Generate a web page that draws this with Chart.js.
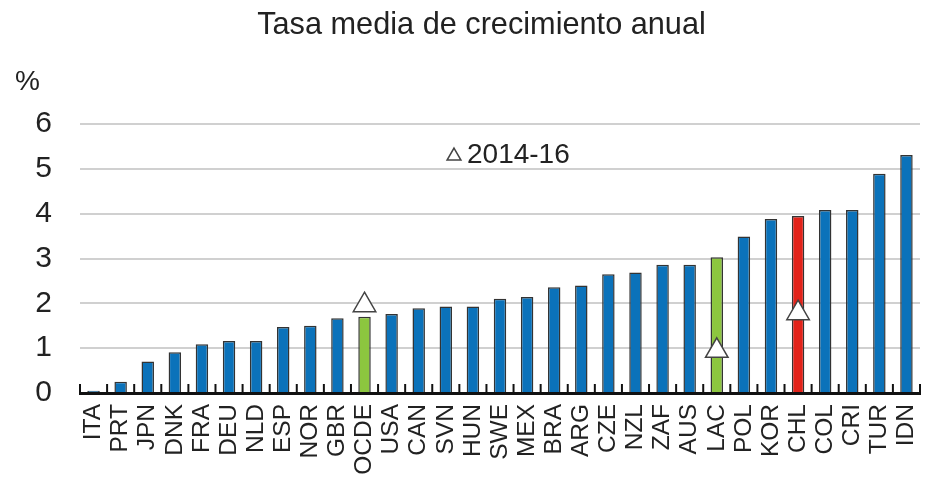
<!DOCTYPE html>
<html>
<head>
<meta charset="utf-8">
<script src="https://cdn.jsdelivr.net/npm/chart.js@4.4.0/dist/chart.umd.min.js"></script>
<style>
  html, body { margin: 0; padding: 0; background: #fff; }
  #wrap { width: 925px; height: 483px; }
</style>
</head>
<body>
<div id="wrap"><canvas id="chart"></canvas></div>
<script>
const countries = ['ITA', 'PRT', 'JPN', 'DNK', 'FRA', 'DEU', 'NLD', 'ESP', 'NOR', 'GBR', 'OCDE', 'USA', 'CAN', 'SVN', 'HUN', 'SWE', 'MEX', 'BRA', 'ARG', 'CZE', 'NZL', 'ZAF', 'AUS', 'LAC', 'POL', 'KOR', 'CHL', 'COL', 'CRI', 'TUR', 'IDN'];
const growthAvg = [0.05, 0.25, 0.70, 0.91, 1.09, 1.16, 1.16, 1.47, 1.50, 1.67, 1.70, 1.76, 1.89, 1.93, 1.93, 2.10, 2.14, 2.36, 2.40, 2.65, 2.69, 2.86, 2.86, 3.03, 3.49, 3.88, 3.95, 4.08, 4.08, 4.89, 5.31];
const growth2014_16 = [null, null, null, null, null, null, null, null, null, null, 1.96, null, null, null, null, null, null, null, null, null, null, null, null, 0.94, null, null, 1.78, null, null, null, null];
const yTicks = [0, 1, 2, 3, 4, 5, 6];

const BLUE = '#0b72ba';
const GREEN = '#8cc63f';
const RED = '#e2231a';
const FONT = '"Liberation Sans", Arial, sans-serif';

const barColors = countries.map(c => {
  if (c === 'OCDE' || c === 'LAC') return GREEN;
  if (c === 'CHL') return RED;
  return BLUE;
});

// title, "%" label, legend and the little upward ticks between the bars
const extras = {
  id: 'extras',
  afterDatasetsDraw(chart) {
    const ctx = chart.ctx;
    const x = chart.scales.x;
    const area = chart.chartArea;
    const step = x.getPixelForValue(1) - x.getPixelForValue(0);
    ctx.save();
    ctx.strokeStyle = '#111';
    ctx.lineWidth = 2;
    for (let i = 0; i <= countries.length; i++) {
      const px = x.getPixelForValue(i) - step / 2;
      ctx.beginPath();
      ctx.moveTo(px, area.bottom);
      ctx.lineTo(px, area.bottom - 9);
      ctx.stroke();
    }
    ctx.fillStyle = '#222';
    ctx.textBaseline = 'middle';
    ctx.textAlign = 'center';
    ctx.font = '30.7px ' + FONT;
    ctx.fillText('Tasa media de crecimiento anual', 481.5, 26);

    ctx.textAlign = 'left';
    ctx.font = '28px ' + FONT;
    ctx.fillText('%', 15, 82);

    // legend
    const lx = 454, ly = 155;
    ctx.fillStyle = '#fff';
    ctx.strokeStyle = '#444';
    ctx.lineWidth = 1.5;
    Chart.helpers.drawPoint(ctx, { pointStyle: 'triangle', radius: 8, borderWidth: 1.5 }, lx, ly + 1);
    ctx.fillStyle = '#222';
    ctx.font = '28px ' + FONT;
    ctx.fillText('2014-16', 467, ly);
    ctx.restore();
  }
};

new Chart(document.getElementById('chart'), {
  data: {
    labels: countries,
    datasets: [
      {
        type: 'line',
        label: '2014-16',
        data: growth2014_16,
        showLine: false,
        pointStyle: 'triangle',
        pointRadius: 13,
        pointBackgroundColor: '#fff',
        pointBorderColor: '#444',
        pointBorderWidth: 1.5,
        order: 0
      },
      {
        type: 'bar',
        label: 'Tasa media',
        data: growthAvg,
        backgroundColor: barColors,
        borderColor: '#333',
        borderWidth: 1.5,
        barPercentage: 0.46,
        categoryPercentage: 1,
        order: 1
      }
    ]
  },
  options: {
    responsive: true,
    maintainAspectRatio: false,
    animation: false,
    layout: { autoPadding: false, padding: { left: 0, right: 5, top: 124, bottom: 0 } },
    plugins: {
      title: { display: false },
      legend: { display: false },
      tooltip: { enabled: false }
    },
    scales: {
      x: {
        grid: { display: false, drawTicks: false },
        border: { display: true, color: '#111', width: 3 },
        afterFit: axis => { axis.paddingLeft = 0; axis.paddingRight = 0; axis.height = 90; },
        ticks: {
          autoSkip: false,
          minRotation: 90,
          maxRotation: 90,
          padding: 11,
          color: '#222',
          font: { family: FONT, size: 24.5 }
        }
      },
      y: {
        min: 0,
        max: 6,
        afterBuildTicks: axis => { axis.ticks = yTicks.map(v => ({ value: v })); },
        afterFit: axis => { axis.width = 80; },
        grid: { color: '#d0d0d0', lineWidth: 2, drawTicks: false },
        border: { display: false },
        ticks: {
          padding: 28,
          color: '#222',
          font: { family: FONT, size: 30 }
        }
      }
    }
  },
  plugins: [extras]
});
</script>
</body>
</html>
